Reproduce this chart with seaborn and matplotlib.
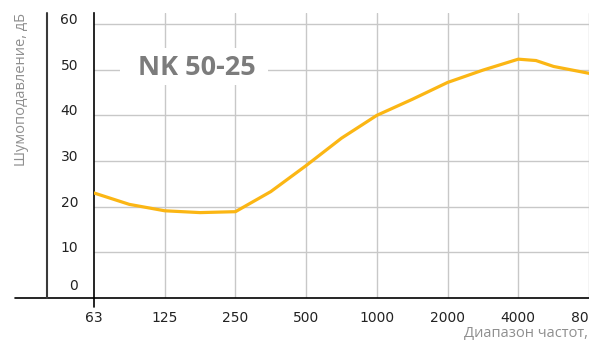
import numpy as np
import matplotlib
matplotlib.use("Agg")
import matplotlib.pyplot as plt
import matplotlib.transforms as mtransforms
from matplotlib.lines import Line2D
from matplotlib.patches import Rectangle
import seaborn as sns
import pandas as pd

# frequency bands on the x axis (equally spaced, octave steps)
freq_labels = ["63", "125", "250", "500", "1000", "2000", "4000", "8000"]
# curve at half-octave steps (0 = 63 Hz, 7 = 8000 Hz)
octave_pos = [0, 0.5, 1, 1.5, 2, 2.5, 3, 3.5, 4, 4.5, 5, 5.5, 6, 6.25, 6.5, 7]
attenuation = [23.0, 20.5, 19.1, 18.7, 18.9, 23.3, 29.0, 35.0, 40.0, 43.5,
               47.2, 49.9, 52.3, 52.0, 50.7, 49.2]
y_ticks = [0, 10, 20, 30, 40, 50, 60]

sns.set_style("white")
plt.rcParams["font.family"] = ["DejaVu Sans"]

GRID = "#c8c8c8"
LABEL_GREY = "#8f8f8f"

fig = plt.figure(figsize=(5.89, 3.45), dpi=100)
ax = fig.add_axes([94 / 589, 1 - 298 / 345, 1 - 94 / 589, (298 - 13) / 345])

df = pd.DataFrame({"pos": octave_pos, "db": attenuation})
sns.lineplot(data=df, x="pos", y="db", ax=ax, color="#fbb614", linewidth=2.3,
             zorder=5)

ax.set_xlim(0, 7)
ax.set_ylim(0, 285 / (274 / 60))
ax.set_xticks(range(len(freq_labels)))
ax.set_xticklabels(freq_labels)
ax.set_yticks(y_ticks)
ax.set_xlabel("")
ax.set_ylabel("")

# gridlines
for y in y_ticks[1:]:
    ax.axhline(y, color=GRID, lw=1.0, zorder=1)
for x in range(1, len(freq_labels)):
    ax.axvline(x, color=GRID, lw=1.0, zorder=1)

for s in ["top", "right", "bottom"]:
    ax.spines[s].set_visible(False)
ax.spines["left"].set_color("black")
ax.spines["left"].set_linewidth(1.2)

ax.tick_params(axis="y", length=4.5, width=1.0, color=GRID, pad=7,
               labelsize=10, labelcolor="#222222")
ax.tick_params(axis="x", length=0, pad=9, labelsize=10, labelcolor="#222222")

# y labels sit just above their gridline
for lbl in ax.get_yticklabels():
    lbl.set_verticalalignment("baseline")
    lbl.set_y(lbl.get_position()[1])
zero_lbl = ax.get_yticklabels()[0]
zero_lbl.set_transform(zero_lbl.get_transform() +
                       mtransforms.ScaledTranslation(0, 6 / 72, fig.dpi_scale_trans))

# left axis stub below the x axis
ax.add_line(Line2D([0, 0], [-0.03, 0], transform=ax.transAxes, color="black",
                   lw=1.2, clip_on=False))

# figure-level lines: base line and the outer dark vertical
fig.add_artist(Line2D([15 / 589, 1], [1 - 298 / 345] * 2, color="black", lw=1.2))
fig.add_artist(Line2D([47 / 589] * 2, [1 - 298 / 345, 1 - 13 / 345],
                      color="#3a3a3a", lw=1.5))

# title inside the chart on a white patch
ax.add_patch(Rectangle((120 / 589, 1 - 85 / 345), 148 / 589, 37 / 345,
                       transform=fig.transFigure, facecolor="white",
                       edgecolor="none", zorder=4))
ax.text(1.455, 50.4, "NK 50-25", fontsize=19.5, fontweight="bold", color="#7c7c7c",
        family=["Open Sans", "DejaVu Sans"], ha="center", va="center", zorder=6)

# axis titles
fig.text(22 / 589, 1 - 13 / 345, "Шумоподавление, дБ", rotation=90,
         ha="center", va="top", fontsize=10.5, color=LABEL_GREY,
         family=["Open Sans", "DejaVu Sans"])
fig.text(588 / 589, 1 - 333 / 345, "Диапазон частот,", ha="right",
         va="center", fontsize=10.5, color=LABEL_GREY,
         family=["Open Sans", "DejaVu Sans"])

fig.savefig("out.png", dpi=100)
